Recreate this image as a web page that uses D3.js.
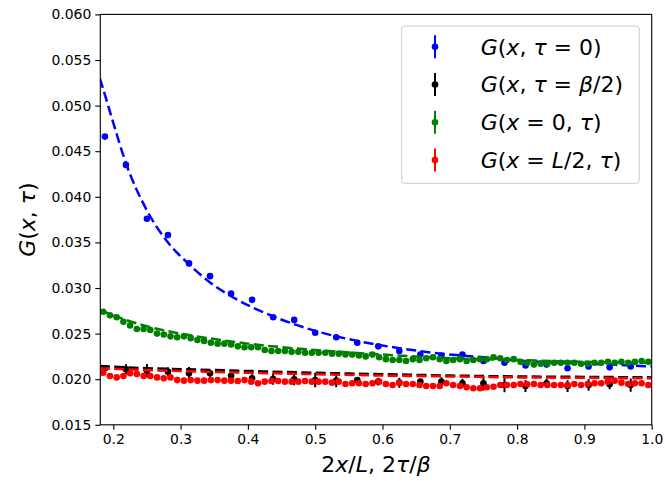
<!DOCTYPE html>
<html><head><meta charset="utf-8">
<script src="https://cdn.jsdelivr.net/npm/d3@7"></script>
<style>body{margin:0;background:#fff}svg{display:block}text{font-family:"DejaVu Sans",sans-serif}</style>
</head><body><svg id="c" width="665" height="481"></svg>
<script>
// ---- data ----
const blueX = [0.1875,0.21875,0.25,0.28125,0.3125,0.34375,0.375,0.40625,0.4375,0.46875,0.5,0.53125,0.5625,0.59375,0.625,0.65625,0.6875,0.71875,0.75,0.78125,0.8125,0.84375,0.875,0.90625,0.9375,0.96875];
const blueY = [0.0466,0.0435,0.0376,0.0358,0.0327,0.0313,0.0294,0.0287,0.0268,0.0265,0.0251,0.0246,0.0240,0.0236,0.0231,0.0227,0.0226,0.0227,0.0220,0.0218,0.0215,0.0216,0.0212,0.0214,0.0213,0.0214];
const blackX = blueX;
const blackY = [0.02119,0.02108,0.02093,0.02082,0.02065,0.02065,0.02038,0.0201,0.02002,0.01999,0.01991,0.01984,0.01991,0.01973,0.01962,0.01973,0.01973,0.01955,0.01955,0.01936,0.01925,0.01955,0.01925,0.01936,0.01945,0.01936];
const blackErr = [0.00037,0.00055,0.00073,0.0005,0.0007,0.00037,0.00037,0.00045,0.00064,0.00064,0.0008,0.00073,0.00033,0.00042,0.00055,0.0003,0.00048,0.0005,0.0008,0.0008,0.00064,0.0005,0.00064,0.00064,0.00055,0.00073];
const tauX = [0.185,0.195,0.205,0.215,0.225,0.235,0.245,0.255,0.265,0.275,0.285,0.295,0.305,0.315,0.325,0.335,0.345,0.355,0.365,0.375,0.385,0.395,0.405,0.415,0.425,0.435,0.445,0.455,0.465,0.475,0.485,0.495,0.505,0.515,0.525,0.535,0.545,0.555,0.565,0.575,0.585,0.595,0.605,0.615,0.625,0.635,0.645,0.655,0.665,0.675,0.685,0.695,0.705,0.715,0.725,0.735,0.745,0.755,0.765,0.775,0.785,0.795,0.805,0.815,0.825,0.835,0.845,0.855,0.865,0.875,0.885,0.895,0.905,0.915,0.925,0.935,0.945,0.955,0.965,0.975,0.985,0.995];
const greenY = [0.0274,0.0270,0.0268,0.0263,0.0259,0.0255,0.0255,0.0254,0.0250,0.0249,0.0247,0.0246,0.0247,0.0245,0.0243,0.0242,0.0240,0.0239,0.0239,0.0238,0.0236,0.0235,0.0235,0.0235,0.0232,0.0231,0.0231,0.0231,0.0230,0.0230,0.0229,0.0229,0.0229,0.0229,0.0228,0.0228,0.0227,0.0227,0.0226,0.0225,0.0227,0.0224,
 0.0222,0.0221,0.0221,0.0220,0.0222,0.0221,0.0223,0.0224,0.0222,0.0220,0.0221,0.0222,0.0220,0.0221,0.0222,0.0222,0.0224,0.0223,0.0221,0.0222,0.0219,0.0218,0.0216,0.0217,0.0217,0.0218,0.0218,0.0218,0.0218,0.0217,0.0217,0.0218,0.0218,0.0219,0.0218,0.0219,0.0218,0.0219,0.0220,0.0219];
const redY = [0.0207,0.02035,0.0202,0.02035,0.02065,0.02057,0.02035,0.02035,0.0202,0.0201,0.0202,0.0199,0.01984,0.0199,0.01984,0.01984,0.0199,0.0199,0.01984,0.01984,0.0198,0.0199,0.01973,0.01955,0.01973,0.0198,0.0198,0.01973,0.01973,0.01973,0.0198,0.01973,0.01973,0.01973,0.01962,0.01973,0.01947,0.01955,0.01955,0.01947,0.01955,0.01973,
 0.01947,0.01936,0.01962,0.01947,0.01947,0.01936,0.01925,0.01925,0.01925,0.01955,0.01936,0.01925,0.01911,0.019,0.019,0.01911,0.01918,0.01936,0.01936,0.01936,0.01947,0.01944,0.01947,0.01936,0.01936,0.01936,0.01936,0.01936,0.01947,0.01936,0.01947,0.01955,0.01955,0.01973,0.01984,0.01962,0.01947,0.01955,0.01955,0.01936];
const blueFitX = [0.18,0.1875,0.2,0.21875,0.25,0.28125,0.3125,0.34375,0.375,0.4375,0.5,0.5625,0.625,0.6875,0.75,0.8125,0.875,0.9375,1.0];
const blueFitY = [0.0530,0.0512,0.0481,0.0437,0.0385,0.0350,0.0326,0.0306,0.0291,0.0269,0.0253,0.0242,0.0234,0.0228,0.0224,0.0220,0.0218,0.0216,0.0214];
const greenFitX = [0.18,0.2,0.25,0.3,0.35,0.4,0.5,0.6,0.7,0.8,0.9,1.0];
const greenFitY = [0.0276,0.0270,0.0258,0.0250,0.0244,0.0239,0.0232,0.0227,0.0223,0.0221,0.0219,0.0218];
const flatFitX = [0.18,0.25,0.3,0.4,0.5,0.6,0.7,0.8,0.9,1.0];
const blackFitY = [0.02145,0.0212,0.0211,0.0209,0.0207,0.02055,0.0204,0.0203,0.02025,0.0202];
const redFitY = [0.0212,0.0210,0.0209,0.0207,0.02055,0.0204,0.0203,0.0202,0.02015,0.0201];
const xTicks = [0.2,0.3,0.4,0.5,0.6,0.7,0.8,0.9,1.0];
const yTicks = [0.015,0.020,0.025,0.030,0.035,0.040,0.045,0.050,0.055,0.060];
const legendRows = [
  {color:"blue",  parts:[["G",1],["(",0],["x",1],[", ",0],["τ",1],[" = 0)",0]]},
  {color:"black", parts:[["G",1],["(",0],["x",1],[", ",0],["τ",1],[" = ",0],["β",1],["/2)",0]]},
  {color:"green", parts:[["G",1],["(",0],["x",1],[" = 0, ",0],["τ",1],[")",0]]},
  {color:"red",   parts:[["G",1],["(",0],["x",1],[" = ",0],["L",1],["/2, ",0],["τ",1],[")",0]]}
];

// ---- chart ----
const L=100.3, R=651.7, T=14.4, B=424.8;
const svg = d3.select("#c");
const x = d3.scaleLinear().domain([0.1807,1.0]).range([L,R]);
const y = d3.scaleLinear().domain([0.015,0.060]).range([B,T]);

svg.append("defs").append("clipPath").attr("id","clip")
  .append("rect").attr("x",L).attr("y",T).attr("width",R-L).attr("height",B-T);
const plot = svg.append("g").attr("clip-path","url(#clip)");

function richText(sel, parts){
  parts.forEach(([t,it])=>{
    sel.append("tspan").text(t).attr("font-style", it?"italic":"normal");
  });
}
const dash = "10,4.4";
function fit(xs, ys, color){
  const line = d3.line().x(d=>x(d[0])).y(d=>y(d[1])).curve(d3.curveMonotoneX);
  plot.append("path").attr("d", line(xs.map((v,i)=>[v,ys[i]])))
    .attr("fill","none").attr("stroke",color).attr("stroke-width",2.5).attr("stroke-dasharray",dash);
}
function dots(xs, ys, color, errs){
  const g = plot.append("g");
  if(errs){
    g.selectAll("line").data(xs).join("line")
      .attr("x1",d=>x(d)).attr("x2",d=>x(d))
      .attr("y1",(d,i)=>y(ys[i]-errs[i])).attr("y2",(d,i)=>y(ys[i]+errs[i]))
      .attr("stroke",color).attr("stroke-width",2);
  }
  g.selectAll("circle").data(xs).join("circle")
    .attr("cx",d=>x(d)).attr("cy",(d,i)=>y(ys[i])).attr("r",3.3).attr("fill",color);
}
dots(blueX, blueY, "blue");
fit(blueFitX, blueFitY, "blue");
dots(blackX, blackY, "black", blackErr);
fit(flatFitX, blackFitY, "black");
dots(tauX, greenY, "green");
fit(greenFitX, greenFitY, "green");
dots(tauX, redY, "red");
fit(flatFitX, redFitY, "red");

// axes
const xa = svg.append("g").attr("transform",`translate(0,${B})`)
  .call(d3.axisBottom(x).tickValues(xTicks).tickFormat(d3.format(".1f")).tickSize(5).tickPadding(4));
const ya = svg.append("g").attr("transform",`translate(${L},0)`)
  .call(d3.axisLeft(y).tickValues(yTicks).tickFormat(d3.format(".3f")).tickSize(5).tickPadding(4));
[xa,ya].forEach(a=>{
  a.select(".domain").remove();
  a.selectAll("text").attr("font-size","13.9px").attr("font-family","DejaVu Sans").attr("fill","#000");
  a.selectAll("line").attr("stroke","#000").attr("stroke-width",1.1);
});
svg.append("rect").attr("x",L).attr("y",T).attr("width",R-L).attr("height",B-T)
  .attr("fill","none").attr("stroke","#000").attr("stroke-width",1.1);

// labels
const xl = svg.append("text").attr("x",(L+R)/2).attr("y",472).attr("text-anchor","middle").attr("font-size","22px");
richText(xl, [["2",0],["x",1],["/",0],["L",1],[", 2",0],["τ",1],["/",0],["β",1]]);
const yl = svg.append("text").attr("transform",`translate(35,${(T+B)/2}) rotate(-90)`).attr("text-anchor","middle").attr("font-size","22px");
richText(yl, [["G",1],["(",0],["x",1],[", ",0],["τ",1],[")",0]]);

// legend
const lg = svg.append("g");
lg.append("rect").attr("x",401.7).attr("y",26).attr("width",237.6).attr("height",157.3).attr("rx",3)
  .attr("fill","white").attr("fill-opacity",0.8).attr("stroke","#cccccc").attr("stroke-width",1);
const rowY = d3.scalePoint().domain(d3.range(legendRows.length)).range([46.7,160]);
legendRows.forEach((r,i)=>{
  const cy = rowY(i);
  lg.append("line").attr("x1",435).attr("x2",435).attr("y1",cy-11.5).attr("y2",cy+11.5).attr("stroke",r.color).attr("stroke-width",2);
  lg.append("circle").attr("cx",435).attr("cy",cy).attr("r",3.3).attr("fill",r.color);
  const t = lg.append("text").attr("x",480.7).attr("y",cy+8).attr("font-size","22px");
  richText(t, r.parts);
});
</script></body></html>
